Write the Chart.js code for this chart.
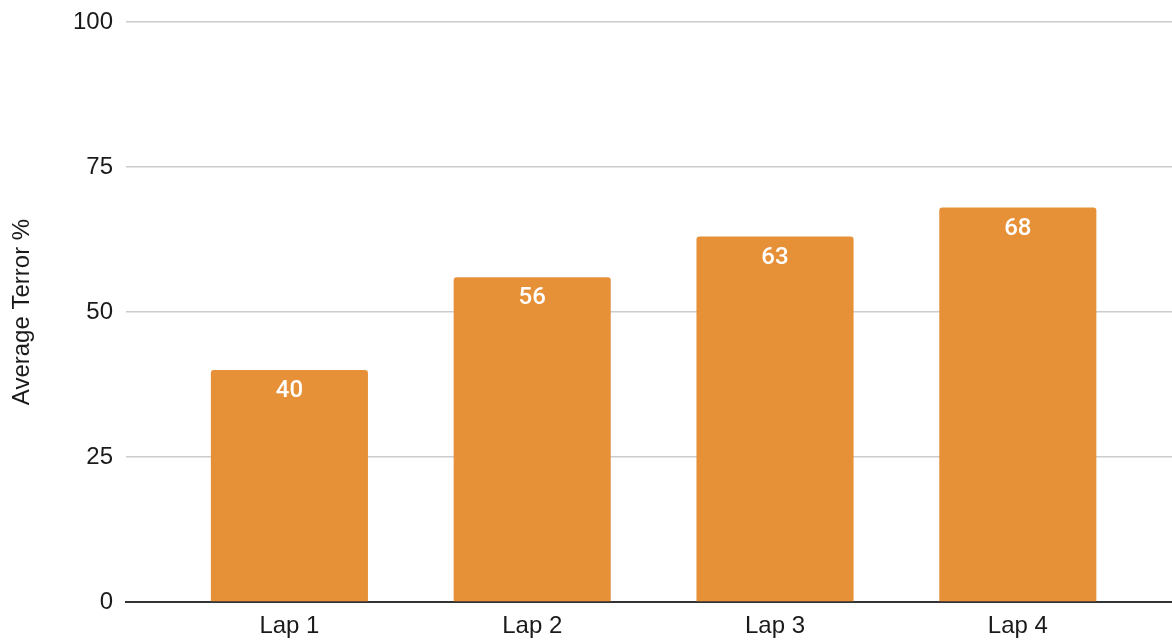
<!DOCTYPE html>
<html>
<head>
<meta charset="utf-8">
<title>Average Terror % by Lap</title>
<script src="https://cdn.jsdelivr.net/npm/chart.js@4.4.1/dist/chart.umd.min.js"></script>
<style>
  html, body { margin: 0; padding: 0; background: #ffffff; }
  #wrap { width: 1172px; height: 643px; position: relative; }
</style>
</head>
<body>
<div id="wrap"><canvas id="chart" width="1172" height="643"></canvas></div>
<script>
// Laps and their average terror scores
const laps = ['Lap 1', 'Lap 2', 'Lap 3', 'Lap 4'];
const terror = [40, 56, 63, 68];
const yTicks = [0, 25, 50, 75, 100];

const barColor = '#e69138';
const textColor = '#1a1a1a';
const baseFont = '"Liberation Sans", Arial, Helvetica, sans-serif';

// Bars sit on a numeric x axis (lap number) so the plot keeps a margin on both sides
const points = laps.map((name, i) => ({ x: i + 1, y: terror[i] }));

// White value labels inside the top of each bar
const valueLabels = {
  id: 'valueLabels',
  afterDatasetsDraw(chart) {
    const ctx = chart.ctx;
    const meta = chart.getDatasetMeta(0);
    ctx.save();
    ctx.fillStyle = '#ffffff';
    ctx.font = '500 24px Roboto, "Open Sans", sans-serif';
    ctx.textAlign = 'center';
    ctx.textBaseline = 'middle';
    meta.data.forEach((bar, i) => {
      ctx.fillText(String(terror[i]), bar.x, bar.y + 21);
    });
    ctx.restore();
  }
};

new Chart(document.getElementById('chart'), {
  type: 'bar',
  data: {
    datasets: [{
      label: 'Average Terror %',
      data: points,
      backgroundColor: barColor,
      borderRadius: { topLeft: 3, topRight: 3, bottomLeft: 0, bottomRight: 0 },
      borderSkipped: 'bottom',
      barPercentage: 0.647,
      categoryPercentage: 1.0
    }]
  },
  options: {
    responsive: false,
    animation: false,
    layout: { padding: { top: 22, right: 0, left: 0, bottom: 0 } },
    plugins: {
      legend: { display: false },
      tooltip: { enabled: false }
    },
    scales: {
      x: {
        type: 'linear',
        offset: false,
        min: 0.327,
        max: 4.635,
        grid: { display: false, drawTicks: false },
        border: { display: true, color: '#333333', width: 2 },
        afterBuildTicks(scale) {
          scale.ticks = laps.map((name, i) => ({ value: i + 1 }));
        },
        afterFit(scale) {
          scale.height = 41;
          scale.paddingLeft = 0;
          scale.paddingRight = 0;
        },
        ticks: {
          autoSkip: false,
          maxRotation: 0,
          padding: 10,
          color: textColor,
          font: { family: baseFont, size: 24 },
          callback: (v) => laps[v - 1] ?? ''
        }
      },
      y: {
        min: 0,
        max: 100,
        afterBuildTicks(scale) {
          scale.ticks = yTicks.map(v => ({ value: v }));
        },
        afterFit(scale) {
          scale.width = 126;
          scale.paddingTop = 0;
          scale.paddingBottom = 0;
        },
        grid: {
          color: '#cccccc',
          lineWidth: 1.5,
          drawTicks: false
        },
        border: { display: false },
        ticks: {
          padding: 13,
          color: textColor,
          font: { family: baseFont, size: 24 }
        },
        title: {
          display: true,
          text: 'Average Terror %',
          color: textColor,
          font: { family: baseFont, size: 24 },
          padding: { top: 8, bottom: 0 }
        }
      }
    }
  },
  plugins: [valueLabels]
});
</script>
</body>
</html>
